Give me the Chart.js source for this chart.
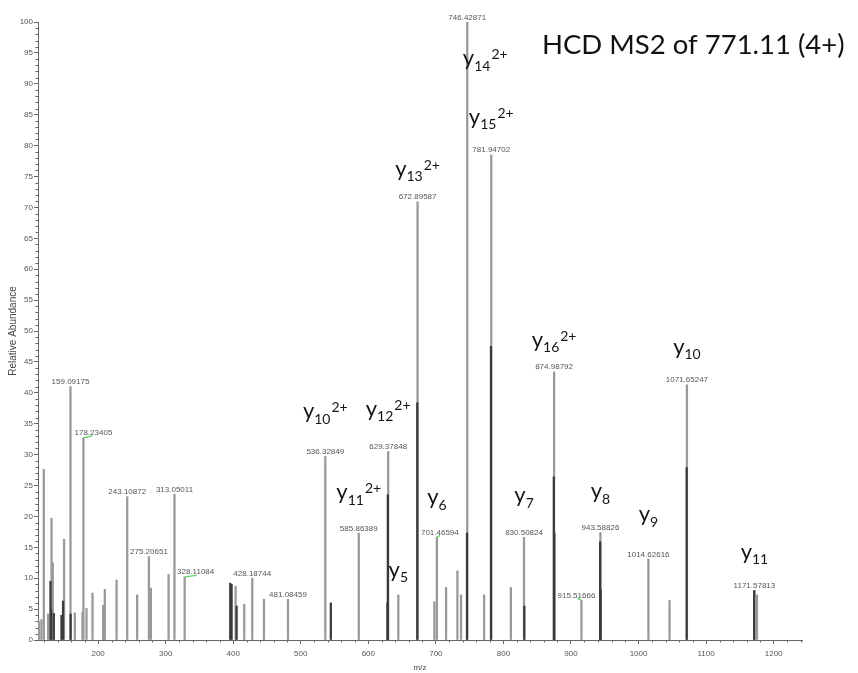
<!DOCTYPE html>
<html>
<head>
<meta charset="utf-8">
<script src="https://cdn.jsdelivr.net/npm/chart.js@4.4.1/dist/chart.umd.min.js"></script>
<style>
  html, body { margin: 0; padding: 0; background: #ffffff; }
  #wrap { width: 858px; height: 673px; position: relative; }
</style>
</head>
<body>
<div id="wrap"><canvas id="spectrum" width="858" height="673"></canvas></div>
<script>
// Annotated peaks (m/z, relative abundance %)
const labeledMz = [159.09175, 178.23405, 243.10872, 275.20651, 313.05011, 328.11084, 428.18744, 481.08459,
  536.32849, 585.86389, 629.37848, 672.89587, 701.46594, 746.42871, 781.94702, 830.50824, 874.98792,
  915.51666, 943.58826, 1014.62616, 1071.65247, 1171.57813];
const labeledAbundance = [41.0, 32.7, 23.2, 13.5, 23.6, 10.2, 10.0, 6.6,
  29.7, 17.3, 30.5, 70.9, 16.6, 100, 78.5, 16.6, 43.4,
  6.4, 17.4, 13.1, 41.3, 8.0];

// Unannotated peaks
const otherMz = [112.6, 116.1, 119.6, 126.0, 131.0, 132.9, 149.6, 165.5, 176.9, 182.8,
  191.7, 207.4, 209.9, 227.3, 257.8, 278.1, 304.3, 403.5, 416.3, 445.5,
  644.4, 697.8, 715.1, 731.9, 737.3, 771.4, 811.0, 1045.9, 1175.4];
const otherAbundance = [3.0, 3.3, 27.6, 4.2, 19.7, 12.5, 16.3, 4.4, 4.5, 5.1,
  7.6, 5.6, 8.2, 9.7, 7.3, 8.4, 10.6, 8.7, 5.8, 6.6,
  7.3, 6.2, 8.5, 11.2, 7.3, 7.3, 8.5, 6.4, 7.3];

// Overlapping neighbour peaks (drawn darker)
const overlapMz = [129.5, 130.3, 134.4, 145.8, 148.1, 159.3, 395.6, 397.6, 405.0, 544.5,
  628.9, 628.3, 672.5, 746.1, 781.6, 830.9, 874.6, 875.4, 943.2, 943.9, 1071.3, 1171.2];
const overlapAbundance = [9.5, 4.9, 4.3, 4.0, 6.3, 4.2, 9.2, 9.0, 5.5, 6.0,
  23.5, 6.0, 38.4, 17.3, 47.5, 5.5, 26.4, 17.3, 15.9, 8.1, 27.9, 8.0];

// Fragment ion assignments: anchor peak, y-ion number, charge
const ionMz = [536.32849, 585.86389, 629.37848, 644.4, 672.89587, 701.46594, 746.42871, 781.94702,
  830.50824, 874.98792, 943.58826, 1014.62616, 1071.65247, 1171.57813];
const ionNumber = ['10', '11', '12', '5', '13', '6', '14', '15', '7', '16', '8', '9', '10', '11'];
const ionCharge = ['2+', '2+', '2+', '', '2+', '', '2+', '2+', '', '2+', '', '', '', ''];

// Axis ticks
const xTickValues = [200, 300, 400, 500, 600, 700, 800, 900, 1000, 1100, 1200];
const yTickValues = [0, 5, 10, 15, 20, 25, 30, 35, 40, 45, 50, 55, 60, 65, 70, 75, 80, 85, 90, 95, 100];

const titleText = 'HCD MS2 of 771.11 (4+)';

// ---- layout / styling ----
const SMALL_FONT = '"Liberation Sans", Arial, sans-serif';
const LABEL_FONT = 'Lato, "Open Sans", sans-serif';
const ionLiftPx = [-38, -34, -36, -18, -26, -33, 43, -31, -35, -25, -34, -38, -31, -32];
const ionShiftPx = [0, 0, 0, 0, 0, 0, 18, 0, 0, 0, 0, 0, 0, 0];
const numberShiftPx = { 178.23405: 10, 328.11084: 11, 701.46594: 3, 915.51666: -5 };
const greenMarks = [
  { mz: 178.23405, dx0: 0, dy0: 0, dx1: 9, dy1: -2 },
  { mz: 328.11084, dx0: 0, dy0: 0, dx1: 12, dy1: -1.5 },
  { mz: 701.46594, dx0: 0, dy0: 0, dx1: 3, dy1: -2 },
  { mz: 915.51666, dx0: -4, dy0: -2, dx1: 0, dy1: 0 }
];

function abundanceAt(mz) {
  let i = labeledMz.indexOf(mz);
  if (i >= 0) return labeledAbundance[i];
  i = otherMz.indexOf(mz);
  return i >= 0 ? otherAbundance[i] : 0;
}

const toPoints = (xs, ys) => xs.map((v, i) => ({ x: v, y: ys[i] }));

const annotationPlugin = {
  id: 'peakAnnotations',
  afterDraw(chart) {
    const { ctx, scales: { x, y } } = chart;
    ctx.save();

    // minor ticks
    ctx.strokeStyle = '#666';
    ctx.lineWidth = 1;
    ctx.beginPath();
    for (let v = 1; v < 100; v++) {
      if (v % 5 === 0) continue;
      const py = Math.round(y.getPixelForValue(v)) + 0.5;
      ctx.moveTo(x.left - 2.5, py);
      ctx.lineTo(x.left, py);
    }
    for (let v = 120; v <= 1240; v += 20) {
      if (v % 100 === 0) continue;
      const px = Math.round(x.getPixelForValue(v)) + 0.5;
      ctx.moveTo(px, y.bottom);
      ctx.lineTo(px, y.bottom + 2.5);
    }
    ctx.stroke();

    // green markers
    ctx.strokeStyle = '#5fd35f';
    ctx.lineWidth = 1.3;
    greenMarks.forEach(g => {
      const px = x.getPixelForValue(g.mz);
      const py = y.getPixelForValue(abundanceAt(g.mz));
      ctx.beginPath();
      ctx.moveTo(px + g.dx0, py + g.dy0);
      ctx.lineTo(px + g.dx1, py + g.dy1);
      ctx.stroke();
    });

    // peak m/z labels
    ctx.font = '8px ' + SMALL_FONT;
    ctx.fillStyle = '#555';
    ctx.textAlign = 'center';
    ctx.textBaseline = 'alphabetic';
    labeledMz.forEach((mz, i) => {
      const px = x.getPixelForValue(mz) + (numberShiftPx[mz] || 0);
      const py = y.getPixelForValue(labeledAbundance[i]) - 2.5;
      ctx.fillText(mz.toFixed(5), px, py);
    });

    // ion labels
    const mainFont = '22px ' + LABEL_FONT;
    const smallFont = '14px ' + LABEL_FONT;
    ctx.fillStyle = '#141414';
    ctx.textAlign = 'left';
    ionMz.forEach((mz, i) => {
      const px = x.getPixelForValue(mz) + ionShiftPx[i];
      const base = y.getPixelForValue(abundanceAt(mz)) + ionLiftPx[i];
      ctx.font = mainFont;
      const w1 = ctx.measureText('y').width;
      ctx.font = smallFont;
      const w2 = ctx.measureText(ionNumber[i]).width;
      const w3 = ionCharge[i] ? ctx.measureText(ionCharge[i]).width + 1 : 0;
      const sx = px - (w1 + w2 + w3) / 2;
      ctx.font = mainFont;
      ctx.fillText('y', sx, base);
      ctx.font = smallFont;
      ctx.fillText(ionNumber[i], sx + w1, base + 5.5);
      if (ionCharge[i]) ctx.fillText(ionCharge[i], sx + w1 + w2 + 1, base - 6);
    });

    // title
    ctx.font = '27.5px ' + LABEL_FONT;
    ctx.fillStyle = '#111';
    ctx.fillText(titleText, 542, 54);
    ctx.restore();
  }
};

new Chart(document.getElementById('spectrum'), {
  type: 'bar',
  data: {
    datasets: [
      { label: 'overlap', data: toPoints(overlapMz, overlapAbundance), backgroundColor: '#3a3a3a', order: 0 },
      { label: 'annotated', data: toPoints(labeledMz, labeledAbundance), backgroundColor: '#999999', order: 1 },
      { label: 'other', data: toPoints(otherMz, otherAbundance), backgroundColor: '#999999', order: 2 }
    ]
  },
  options: {
    responsive: false,
    animation: false,
    devicePixelRatio: 1,
    layout: { padding: { top: 22, right: 56, left: 0, bottom: 0 } },
    datasets: { bar: { barThickness: 1.6, grouped: false, borderWidth: 0 } },
    plugins: { legend: { display: false }, tooltip: { enabled: false }, title: { display: false } },
    scales: {
      x: {
        type: 'linear', min: 111, max: 1242, offset: false,
        afterBuildTicks: s => { s.ticks = xTickValues.map(v => ({ value: v })); },
        afterFit: s => { s.height = 33; },
        ticks: { font: { family: SMALL_FONT, size: 8 }, color: '#555', padding: 5, maxRotation: 0, autoSkip: false,
                 callback: v => String(v) },
        grid: { display: true, drawOnChartArea: false, tickLength: 4, color: '#666', offset: false },
        border: { display: true, color: '#666' },
        title: { display: true, text: 'm/z', font: { family: SMALL_FONT, size: 8 }, color: '#444', padding: { top: 0, bottom: 0 } }
      },
      y: {
        type: 'linear', min: 0, max: 100,
        afterBuildTicks: s => { s.ticks = yTickValues.map(v => ({ value: v })); },
        afterFit: s => { s.width = 38; },
        ticks: { font: { family: SMALL_FONT, size: 8 }, color: '#555', padding: 1, callback: v => String(v) },
        grid: { display: true, drawOnChartArea: false, tickLength: 4, color: '#666' },
        border: { display: true, color: '#666' },
        title: { display: true, text: 'Relative Abundance', font: { family: SMALL_FONT, size: 10 }, color: '#444', padding: { top: 7.5, bottom: 0 } }
      }
    }
  },
  plugins: [annotationPlugin]
});
</script>
</body>
</html>
